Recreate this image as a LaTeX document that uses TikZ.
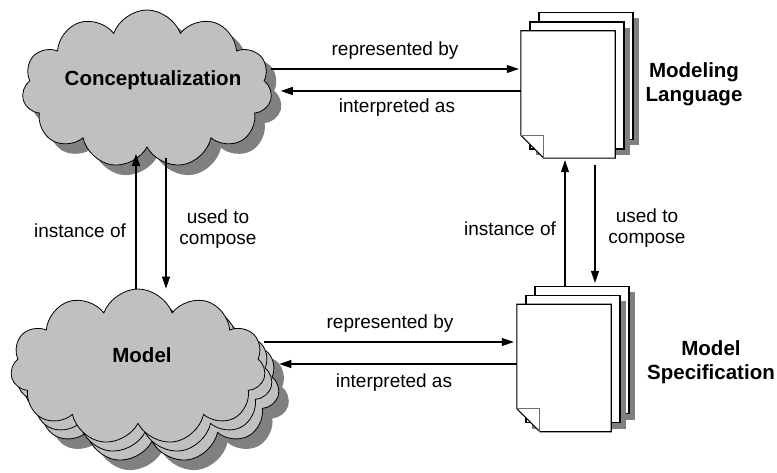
\documentclass[tikz,border=0pt]{standalone}
\usepackage{fontspec}
\setmainfont{Liberation Sans}
\usetikzlibrary{shapes.symbols,shadows,arrows.meta,calc}
\definecolor{cloudgray}{RGB}{192,192,192}
\definecolor{shadowgray}{RGB}{128,128,128}
\definecolor{foldgray}{RGB}{110,110,110}
\newcommand{\drawfolddoc}[1]{%
  \fill[shadowgray, shift={(6pt,-6pt)}] (#1.north west) -- (#1.north east) -- (#1.south east) -- ([xshift=23pt]#1.south west) -- ([yshift=23pt]#1.south west) -- cycle;
  \draw[docline, fill=white] (#1.north west) -- (#1.north east) -- (#1.south east) -- ([xshift=23pt]#1.south west) -- ([yshift=23pt]#1.south west) -- cycle;
  \draw[foldline] ([yshift=23pt]#1.south west) -- ([xshift=23pt,yshift=23pt]#1.south west) -- ([xshift=23pt]#1.south west);
}
\begin{document}
\begin{tikzpicture}[x=1pt,y=-1pt,
  cloudbox/.style={cloud, cloud puffs=11, cloud puff arc=140, cloud ignores aspect, draw=black, line width=0.8pt, fill=cloudgray, inner sep=0pt},
  cshadow/.style={drop shadow={shadow xshift=10pt, shadow yshift=-10pt, fill=shadowgray, opacity=1}},
  pagebox/.style={rectangle, draw=black, line width=1.1pt, fill=white, inner sep=0pt, minimum width=94pt, minimum height=127pt},
  pshadow/.style={drop shadow={shadow xshift=6pt, shadow yshift=-6pt, fill=shadowgray, opacity=1}},
  frontpage/.style={rectangle, draw=none, inner sep=0pt, minimum width=94pt, minimum height=127pt},
  docline/.style={draw=black, line width=1.1pt},
  foldline/.style={draw=foldgray, line width=0.8pt},
  arr/.style={line width=1.1pt, -{Triangle[length=12pt,width=8pt]}},
  lbl/.style={font=\fontsize{19}{21.5}\selectfont, align=center, inner sep=0pt},
  ttl/.style={font=\bfseries\fontsize{20.5}{24}\selectfont, align=center, inner sep=0pt}
]
\useasboundingbox (0,0) rectangle (777,473);

% Conceptualization cloud
\node[cloudbox, cshadow, minimum width=250pt, minimum height=158pt] (concept) at (147,89) {};
\node[ttl] (conceptlbl) at (153,80) {Conceptualization};

% Model cloud stack
\node[cloudbox, cshadow, minimum width=255pt, minimum height=156pt] (model3) at (152,385) {};
\node[cloudbox, minimum width=255pt, minimum height=156pt] (model2) at (145,376) {};
\node[cloudbox, minimum width=255pt, minimum height=156pt] (model1) at (138,367) {};
\node[ttl] (modellbl) at (142,355) {Model};

% Modeling Language stack
\node[pagebox, pshadow] (mlang3) at (586,76) {};
\node[pagebox, pshadow] (mlang2) at (577,85.5) {};
\node[frontpage] (mlang1) at (568,94.5) {};
\drawfolddoc{mlang1}
\node[ttl] (mllbl) at (694,84) {Modeling\\Language};

% Model Specification stack
\node[pagebox, pshadow] (mspec3) at (582,350) {};
\node[pagebox, pshadow] (mspec2) at (573,359) {};
\node[frontpage] (mspec1) at (564,368) {};
\drawfolddoc{mspec1}
\node[ttl] (mslbl) at (711,362) {Model\\Specification};

% top horizontal arrows
\draw[arr] (concept.east |- 0,69) -- ([xshift=-2pt]mlang1.west |- 0,69);
\draw[arr] (mlang1.west |- 0,91) -- ([xshift=10pt]concept.east |- 0,91);
\node[lbl] (rep1) at (395,51) {represented by};
\node[lbl] (int1) at (397,108) {interpreted as};

% left vertical arrows
\draw[arr] (model1.north -| 136,0) -- ([yshift=-6pt]concept.south -| 136,0);
\draw[arr] ([yshift=-10pt]concept.south -| 166,0) -- (model1.north -| 166,0);
\node[lbl] (inst1) at (80,231) {instance of};
\node[lbl] (used1) at (218,229) {used to\\compose};

% right vertical arrows
\draw[arr] (mspec3.north -| 565,0) -- ([yshift=-2pt]mlang1.south -| 565,0);
\draw[arr] ([yshift=-7pt]mlang1.south -| 595,0) -- ([yshift=3pt]mspec3.north -| 595,0);
\node[lbl] (inst2) at (510,229) {instance of};
\node[lbl] (used2) at (647,228) {used to\\compose};

% bottom horizontal arrows
\draw[arr] (model1.east |- 0,342) -- ([xshift=-3pt]mspec1.west |- 0,342);
\draw[arr] (mspec1.west |- 0,364) -- ([xshift=15pt]model1.east |- 0,364);
\node[lbl] (rep2) at (390,324) {represented by};
\node[lbl] (int2) at (394,383) {interpreted as};
\end{tikzpicture}
\end{document}
